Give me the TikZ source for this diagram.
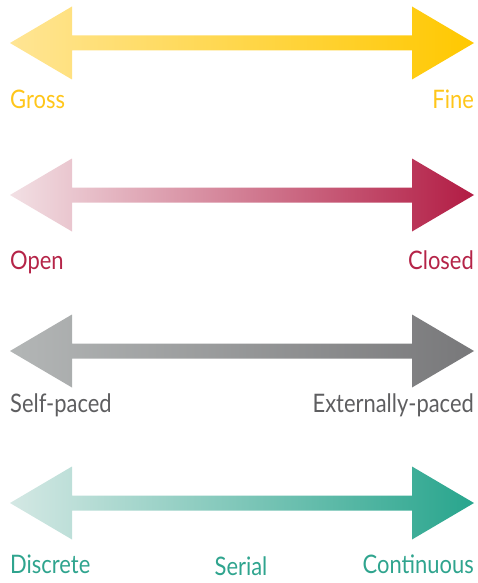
\documentclass[tikz,border=0pt]{standalone}
\usepackage{fontspec}
\setmainfont{Lato}[FakeStretch=0.86]
\usepackage{tikz}
\definecolor{finehi}{HTML}{FFC800}
\definecolor{finelo}{HTML}{FFE594}
\definecolor{closedhi}{HTML}{B21C44}
\definecolor{closedlo}{HTML}{F2E0E4}
\definecolor{pacedhi}{HTML}{78787A}
\definecolor{pacedlo}{HTML}{B3B6B6}
\definecolor{conthi}{HTML}{28A58D}
\definecolor{contlo}{HTML}{D4E8E4}
\definecolor{finetxt}{HTML}{FFC61A}
\definecolor{closedtxt}{HTML}{B52448}
\definecolor{pacedtxt}{HTML}{5E5E60}
\definecolor{conttxt}{HTML}{2FA48E}
\tikzset{
  endlabel/.style={font=\fontsize{25.5}{27}\selectfont, inner sep=0pt},
}

\begin{document}
\begin{tikzpicture}[x=1pt, y=-1pt]
    \useasboundingbox (0,0) rectangle (478,583);
    % one double arrow per row: centre / shading / label colour / labels / label baseline
    \foreach \c/\lo/\hi/\t/\l/\r/\b in {43/finelo/finehi/finetxt/Gross/Fine/109,
        195/closedlo/closedhi/closedtxt/Open/Closed/269,
        351/pacedlo/pacedhi/pacedtxt/Self-paced/Externally-paced/412,
        503/contlo/conthi/conttxt/Discrete/Continuous/573}
      { \shade[left color=\lo, right color=\hi]
          (10,\c) -- (72,\c-36.5) -- (72,\c-7.5) -- (412,\c-7.5) -- (412,\c-36.5)
          -- (474,\c) -- (412,\c+36.5) -- (412,\c+7.5) -- (72,\c+7.5) -- (72,\c+36.5) -- cycle;
        \node[endlabel, text=\t, anchor=base west] (left-\c) at (10,\b) {\l};
        \node[endlabel, text=\t, anchor=base east] (right-\c) at (474,\b) {\r}; }
    \node[endlabel, text=conttxt, anchor=base] (serial) at (241,575) {Serial};
  \end{tikzpicture}
\end{document}
